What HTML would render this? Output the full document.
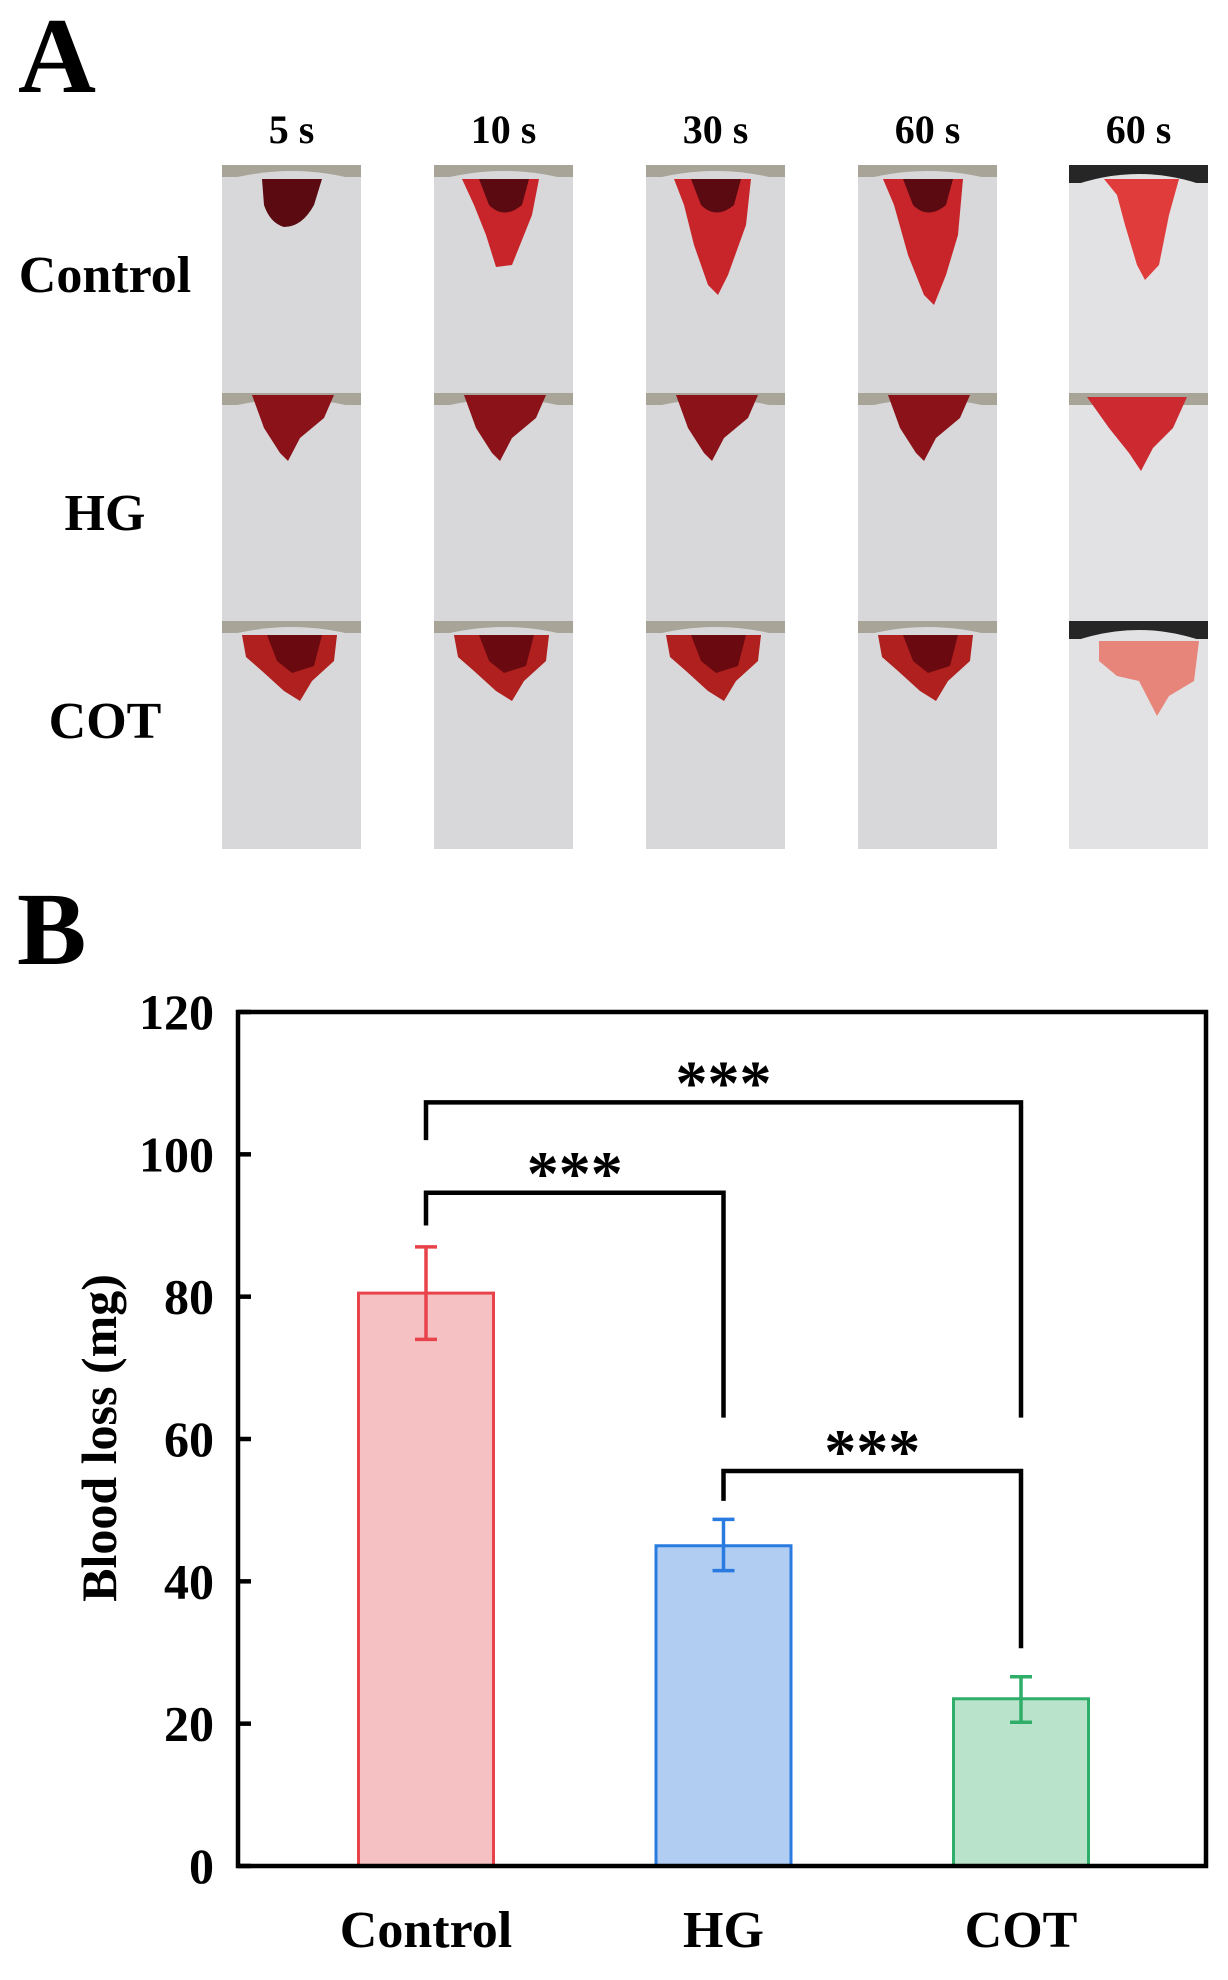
<!DOCTYPE html>
<html><head><meta charset="utf-8"><style>
html,body{margin:0;padding:0;background:#fff}
svg{display:block}
text{font-family:"Liberation Serif",serif;font-weight:bold;fill:#000}
</style></head><body>
<svg id="fig" width="1228" height="1980" viewBox="0 0 1228 1980" xmlns="http://www.w3.org/2000/svg">
<defs>
<linearGradient id="paper" x1="0" y1="0" x2="0" y2="1"><stop offset="0" stop-color="#d9d9db"/><stop offset="1" stop-color="#cfcfd1"/></linearGradient>
<linearGradient id="paper2" x1="0" y1="0" x2="0" y2="1"><stop offset="0" stop-color="#e4e4e6"/><stop offset="1" stop-color="#d0d0d2"/></linearGradient>
</defs>
<text x="18" y="92" font-size="108">A</text>
<g id="panelA"></g>
<text x="17" y="964" font-size="104">B</text>
<g id="chart"></g>
</svg>
<script>
// ---------- Panel A ----------
const timeLabels = ["5 s","10 s","30 s","60 s","60 s"];
const rowLabels = ["Control","HG","COT"];
const colX = [222,434,646,858,1069];
const rowY = [165,393,621];
const cw = 139, ch = 228;
const NS = "http://www.w3.org/2000/svg";
const A = document.getElementById('panelA');
function mk(tag, attrs, parent){const e=document.createElementNS(NS,tag);for(const k in attrs)e.setAttribute(k,attrs[k]);(parent||A).appendChild(e);return e;}
timeLabels.forEach((t,i)=>{
  const e=mk('text',{x:colX[i]+cw/2,y:143,'font-size':40,'text-anchor':'middle'});
  e.textContent=t;
  
  
});
const rowBase=[292,530,738];
rowLabels.forEach((t,i)=>{
  const e=mk('text',{x:105,y:rowBase[i],'font-size':52,'text-anchor':'middle'});
  e.textContent=t;
  
  
});
const blobs = {
 c0:"M40,14 L100,14 L92,40 Q80,62 62,62 Q48,58 42,40 Z",
 c1:"M28,14 L105,14 L98,50 L78,100 L62,102 L52,70 L40,40 Z",
 c2:"M28,14 L105,14 L100,60 L82,110 L72,130 L62,120 L48,80 L38,40 Z",
 c3:"M25,14 L105,14 L100,70 L88,110 L76,140 L66,130 L50,90 L36,40 Z",
 c4:"M35,14 L110,14 L100,50 L90,100 L76,115 L68,100 L56,60 L48,30 Z",
 h:"M30,2 L112,2 L102,25 L78,45 L66,68 L58,60 L42,35 Z",
 h4:"M18,4 L118,4 L104,35 L84,55 L72,78 L60,60 L40,35 Z",
 o:"M20,14 L115,14 L112,40 L90,60 L78,80 L62,70 L40,50 L24,36 Z",
 o4:"M30,20 L130,20 L125,60 L100,75 L88,95 L70,60 L48,55 L30,40 Z"
};
for(let r=0;r<3;r++){
  for(let c=0;c<5;c++){
    const g=mk('g',{transform:`translate(${colX[c]},${rowY[r]})`});
    
    
    mk('rect',{x:0,y:0,width:cw,height:ch,fill:c===4?'url(#paper2)':'url(#paper)'},g);
    if(c===4 && r!==1){mk('rect',{x:0,y:0,width:cw,height:18,fill:'#262626'},g);}
    else {mk('rect',{x:0,y:0,width:cw,height:12,fill:'#a8a497'},g);}
    mk('path',{d:`M0,${c===4?22:16} Q70,-4 ${cw},${c===4?22:16} L${cw},${ch} L0,${ch} Z`,fill:c===4?'#e2e2e4':'#d8d8da'},g);
    let key, col;
    if(r===0){key='c'+c;col=c===0?'#5a0a10':(c===4?'#e03c3c':'#c8252a');}
    else if(r===1){key=c===4?'h4':'h';col=c===4?'#cc2a30':'#8a1218';}
    else {key=c===4?'o4':'o';col=c===4?'#e8857a':'#b0201e';}
    mk('path',{d:blobs[key],fill:col},g);
    if(r===0&&c<4){mk('path',{d:'M45,14 L95,14 L88,40 Q70,55 55,40 Z',fill:'#5a0a10'},g);}
    if(r===2&&c<4){mk('path',{d:'M45,14 L100,14 L92,45 L70,52 L55,40 Z',fill:'#6a0a10'},g);}
  }
}
// ---------- Panel B ----------
const categories = ["Control","HG","COT"];
const values = [80.5,45.0,23.5];
const errLow = [74.0,41.5,20.2];
const errHigh = [87.0,48.7,26.6];
const yTicks = [0,20,40,60,80,100,120];
const fills = ["#f5c1c2","#b1cdf2","#b9e3ca"];
const strokes = ["#e8434a","#2a7be0","#2fae6a"];
const brFrom = [0,0,1];
const brTo = [1,2,2];
const brTop = [94.6,107.3,55.5];
const brLeftEnd = [90.0,102.0,51.3];
const brRightEnd = [63.0,63.0,30.6];
const brLabels = ["***","***","***"];

const X0=238, X1=1206, Y0=1866, Y1=1012, YMAX=120;
const y = v => Y0 - v/YMAX*(Y0-Y1);
const cx = i => 426 + i*297.5;
const BW = 135;
const C = document.getElementById('chart');
function mc(tag, attrs){return mk(tag, attrs, C);}

categories.forEach((cat,i)=>{
  const b=mc('rect',{x:cx(i)-BW/2,y:y(values[i]),width:BW,height:Y0-y(values[i]),fill:fills[i],stroke:strokes[i],'stroke-width':3});
  
  
  const e=mc('path',{d:`M${cx(i)},${y(errHigh[i])}V${y(errLow[i])}M${cx(i)-11},${y(errHigh[i])}H${cx(i)+11}M${cx(i)-11},${y(errLow[i])}H${cx(i)+11}`,stroke:strokes[i],'stroke-width':3.5,fill:'none'});
  
  
  const t=mc('text',{x:cx(i),y:1947,'font-size':52,'text-anchor':'middle'});
  t.textContent=cat;
  
  
});
const fr=mc('rect',{x:X0,y:Y1,width:X1-X0,height:Y0-Y1,fill:'none',stroke:'#000','stroke-width':4.5});


yTicks.forEach(v=>{
  const tk=mc('line',{x1:X0,x2:X0+13,y1:y(v),y2:y(v),stroke:'#000','stroke-width':4.5});
  
  
  const t=mc('text',{x:214,y:y(v)+17,'font-size':50,'text-anchor':'end'});
  t.textContent=v;
  
  
});
const yt=mc('text',{x:0,y:0,'font-size':50,'text-anchor':'middle',transform:'translate(116,1438) rotate(-90)'});
yt.textContent='Blood loss (mg)';


brFrom.forEach((f,k)=>{
  const a=cx(f), b=cx(brTo[k]);
  const p=mc('path',{d:`M${a},${y(brLeftEnd[k])}V${y(brTop[k])}H${b}V${y(brRightEnd[k])}`,stroke:'#000','stroke-width':4.5,fill:'none'});
  
  
  const t=mc('text',{x:(a+b)/2,y:y(brTop[k])+2,'font-size':64,'text-anchor':'middle'});
  t.textContent=brLabels[k];
  
  
});
</script>
</body></html>
